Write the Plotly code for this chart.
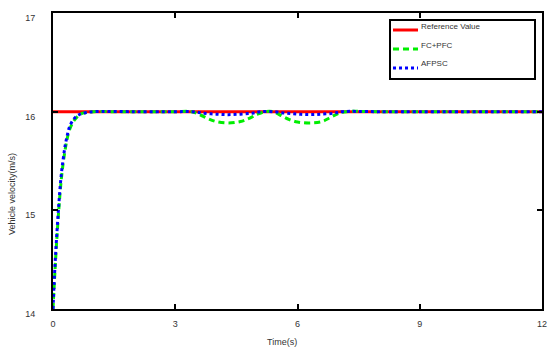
import plotly.graph_objects as go

# ---- data ----
t_ref = [0, 12]
v_ref = [16.0, 16.0]

t_fc = [0, 0.05, 0.1, 0.15, 0.2, 0.25, 0.3, 0.35, 0.4, 0.5, 0.6, 0.7, 0.8, 1.0, 1.5, 2.0, 3.0,
        3.4, 3.6, 3.8, 4.0, 4.3, 4.6, 4.8, 5.0, 5.2, 5.4, 5.6, 5.8, 6.0, 6.3, 6.6, 6.8, 7.0, 7.2, 8.0, 12.0]
v_fc = [14.0, 14.4, 14.75, 15.05, 15.3, 15.48, 15.62, 15.73, 15.81, 15.9, 15.95, 15.98, 15.99, 16.0, 16.0, 16.0, 16.0,
        16.0, 15.97, 15.93, 15.9, 15.885, 15.9, 15.93, 15.97, 16.0, 16.0, 15.96, 15.92, 15.895, 15.885, 15.9, 15.94, 15.98, 16.0, 16.0, 16.0]

t_af = [0, 0.05, 0.1, 0.15, 0.2, 0.25, 0.3, 0.35, 0.4, 0.5, 0.6, 0.7, 0.8, 1.0, 2.0, 3.0,
        3.4, 3.7, 4.0, 4.3, 4.6, 4.9, 5.1, 5.4, 5.7, 6.0, 6.3, 6.6, 6.9, 7.1, 8.0, 12.0]
v_af = [14.0, 14.45, 14.8, 15.1, 15.35, 15.52, 15.66, 15.76, 15.84, 15.92, 15.96, 15.98, 15.99, 16.0, 16.0, 16.0,
        16.0, 15.985, 15.975, 15.97, 15.975, 15.985, 16.0, 16.0, 15.985, 15.975, 15.97, 15.975, 15.985, 16.0, 16.0, 16.0]

x_ticks = [0, 3, 6, 9, 12]
y_ticks = [14, 15, 16, 17]
series_names = ["Reference Value", "FC+PFC", "AFPSC"]
series_colors = ["#ff0000", "#00ee00", "#0000ff"]
series_dash = ["solid", "6px,4px", "dot"]

FONT = "Liberation Sans, Arial"
TXT = "#333333"

W, H = 550, 354
# plot area in page pixels: x 53..542, y 13..309
PL, PR, PT, PB = 53, 542, 13, 309
L, T = PL, PT
R = W - PR
B = H - PB
PW, PH = PR - PL, PB - PT


def px(xp):
    return (xp - PL) / PW


def py(yp):
    return (PB - yp) / PH


fig = go.Figure()
for name, tx, vy, col, dsh in zip(series_names, [t_ref, t_fc, t_af], [v_ref, v_fc, v_af],
                                  series_colors, series_dash):
    fig.add_trace(go.Scatter(x=tx, y=vy, mode="lines", name=name, showlegend=False,
                             line=dict(color=col, width=3, dash=dsh,
                                       shape="linear" if dsh == "solid" else "spline")))

axis_common = dict(showline=True, linecolor="black", linewidth=2, mirror="allticks",
                   ticks="inside", ticklen=5, tickwidth=2, tickcolor="black",
                   showgrid=False, zeroline=False, automargin=False,
                   tickfont=dict(family=FONT, size=9, color=TXT))

shapes = []
annotations = []
# legend box
shapes.append(dict(type="rect", xref="paper", yref="paper",
                   x0=px(390), x1=px(535), y0=py(79), y1=py(20),
                   line=dict(color="black", width=2), fillcolor="white", layer="above"))
for i, (name, col, dsh) in enumerate(zip(series_names, series_colors, series_dash)):
    yl = 30 + i * 19
    shapes.append(dict(type="line", xref="paper", yref="paper",
                       x0=px(393), x1=px(418), y0=py(yl), y1=py(yl),
                       line=dict(color=col, width=3, dash=dsh), layer="above"))
    annotations.append(dict(xref="paper", yref="paper", x=px(419), y=py(yl - 4),
                            text=name, showarrow=False, xanchor="left", yanchor="middle",
                            font=dict(family=FONT, size=8, color=TXT)))

annotations.append(dict(xref="paper", yref="paper", x=px(282), y=py(342), text="Time(s)",
                        showarrow=False, xanchor="center", yanchor="middle",
                        font=dict(family=FONT, size=9, color=TXT)))
annotations.append(dict(xref="paper", yref="paper", x=px(12), y=py(194), text="Vehicle velocity(m/s)",
                        showarrow=False, xanchor="center", yanchor="middle", textangle=-90,
                        font=dict(family=FONT, size=9, color=TXT)))

fig.update_layout(
    width=W, height=H,
    margin=dict(l=L, r=R, t=T, b=B, autoexpand=False),
    plot_bgcolor="white", paper_bgcolor="white",
    font=dict(family=FONT, size=9, color=TXT),
    xaxis=dict(range=[0, 12], tickvals=x_ticks, ticklabelstandoff=5, **axis_common),
    yaxis=dict(range=[14, 17], tickvals=y_ticks, ticklabelstandoff=14, ticklabelshift=5, **axis_common),
    shapes=shapes, annotations=annotations,
    showlegend=False,
)

fig.write_html("out.html", config={"displayModeBar": False},
               post_script="document.body.style.margin='0';document.body.style.overflow='hidden';")
